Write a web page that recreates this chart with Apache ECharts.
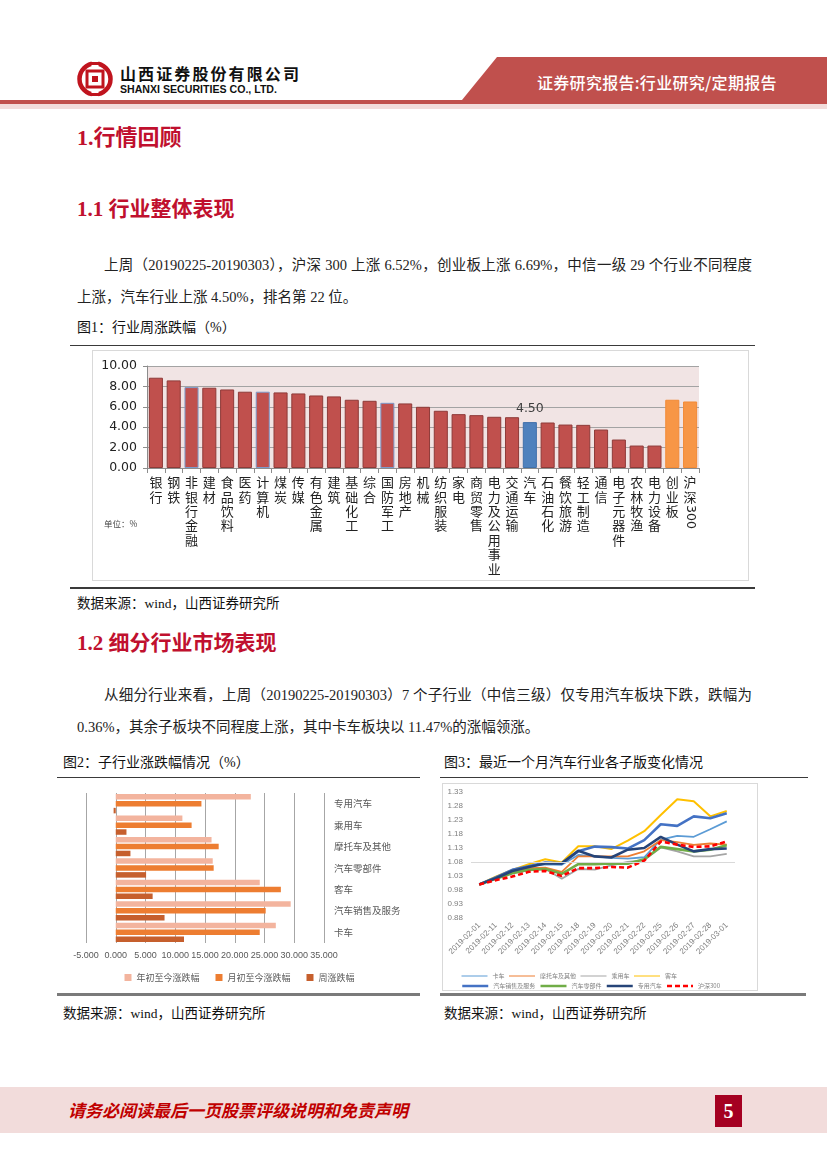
<!DOCTYPE html>
<html><head><meta charset="utf-8">
<script src="https://cdn.jsdelivr.net/npm/echarts@6/dist/echarts.min.js"></script>
<style>
body{margin:0;width:827px;height:1169px;position:relative;background:#fff;overflow:hidden;font-family:"Liberation Serif","Noto Sans CJK SC",serif;color:#1a1a1a;}
.a{position:absolute;white-space:nowrap;}
.h{font-weight:bold;color:#C0102E;}
.p{font-size:14.5px;line-height:20px;color:#222;}
.j{text-align:justify;text-align-last:justify;}
.cap{font-size:14px;line-height:20px;color:#111;}
.rule{position:absolute;background:#3a3a3a;}
</style></head>
<body>
<!-- header -->
<svg class="a" style="left:76px;top:59px" width="38" height="40" viewBox="0 0 38 40">
  <circle cx="19" cy="20" r="15.5" fill="none" stroke="#C0141E" stroke-width="4.5"/>
  <rect x="15.5" y="0" width="7" height="9" fill="#fff"/>
  <rect x="15.5" y="31" width="7" height="9" fill="#fff"/>
  <rect x="11" y="12" width="16" height="16" fill="none" stroke="#C0141E" stroke-width="3"/>
  <rect x="16" y="17" width="6" height="6" fill="#C0141E"/>
  <rect x="14" y="3" width="10" height="3" fill="#C0141E"/>
  <rect x="14" y="34" width="10" height="3" fill="#C0141E"/>
</svg>
<div class="a" style="left:120px;top:63px;font-size:16px;line-height:20px;font-weight:bold;letter-spacing:2.1px;font-family:'Noto Sans CJK SC';color:#111">山西证券股份有限公司</div>
<div class="a" style="left:120px;top:82px;font-size:10.6px;line-height:14px;font-weight:bold;font-family:'Liberation Sans';color:#111">SHANXI SECURITIES CO., LTD.</div>
<svg class="a" style="left:0;top:56px" width="827" height="54">
  <polygon points="497,1 827,1 827,44 462,44" fill="#C0504D"/>
  <rect x="0" y="44" width="827" height="4" fill="#C0504D"/>
  <rect x="0" y="48" width="827" height="5" fill="#F2DCDB"/>
</svg>
<div class="a" style="left:537px;top:72px;font-size:16px;line-height:20px;color:#fff;font-family:'Noto Sans CJK SC';font-weight:500;letter-spacing:0.3px">证券研究报告:行业研究/定期报告</div>

<!-- section 1 -->
<div class="a h" style="left:77px;top:125px;font-size:22px;line-height:26px">1.行情回顾</div>
<div class="a h" style="left:77px;top:196px;font-size:21px;line-height:26px">1.1 行业整体表现</div>
<div class="a p j" style="left:104px;top:255px;width:648px">上周（20190225-20190303），沪深 300 上涨 6.52%，创业板上涨 6.69%，中信一级 29 个行业不同程度</div>
<div class="a p" style="left:77px;top:287px">上涨，汽车行业上涨 4.50%，排名第 22 位。</div>
<div class="a cap" style="left:77px;top:318px">图1：行业周涨跌幅（%）</div>
<div class="rule" style="left:70px;top:345px;width:685px;height:1px"></div>
<div id="c1" class="a" style="left:92px;top:350px;width:655px;height:229px;border:1px solid #D9D9D9"></div>
<div class="rule" style="left:70px;top:587px;width:685px;height:1.5px"></div>
<div class="a cap" style="left:77px;top:594px;font-size:13.5px">数据来源：wind，山西证券研究所</div>

<!-- section 1.2 -->
<div class="a h" style="left:77px;top:630px;font-size:21px;line-height:26px">1.2 细分行业市场表现</div>
<div class="a p j" style="left:104px;top:685px;width:648px">从细分行业来看，上周（20190225-20190303）7 个子行业（中信三级）仅专用汽车板块下跌，跌幅为</div>
<div class="a p" style="left:77px;top:717px">0.36%，其余子板块不同程度上涨，其中卡车板块以 11.47%的涨幅领涨。</div>
<div class="a cap" style="left:63px;top:753px">图2：子行业涨跌幅情况（%）</div>
<div class="a cap" style="left:444px;top:753px">图3：最近一个月汽车行业各子版变化情况</div>
<div class="rule" style="left:57px;top:777px;width:363px;height:1px"></div>
<div class="rule" style="left:440px;top:777px;width:368px;height:1px"></div>
<div id="c2" class="a" style="left:57px;top:783px;width:365px;height:210px"></div>
<div id="c3" class="a" style="left:442px;top:783px;width:314px;height:206px;border:1px solid #D9D9D9"></div>
<div class="rule" style="left:57px;top:993px;width:363px;height:3px;background:#7a7a7a"></div>
<div class="rule" style="left:440px;top:993px;width:366px;height:3px;background:#7a7a7a"></div>
<div class="a cap" style="left:63px;top:1004px;font-size:13.5px">数据来源：wind，山西证券研究所</div>
<div class="a cap" style="left:444px;top:1004px;font-size:13.5px">数据来源：wind，山西证券研究所</div>

<!-- footer -->
<div class="a" style="left:0;top:1087px;width:827px;height:46px;background:#F2DCDB"></div>
<div class="a" style="left:68px;top:1099px;font-size:17px;line-height:22px;font-weight:bold;font-style:italic;color:#C00000;font-family:'Noto Sans CJK SC'">请务必阅读最后一页股票评级说明和免责声明</div>
<div class="a" style="left:715px;top:1095px;width:27px;height:32px;background:#A50021;color:#fff;font-size:20px;line-height:32px;text-align:center;font-weight:bold">5</div>

<script>
// ---------- Figure 1 data ----------
const industries = ['银行','钢铁','非银行金融','建材','食品饮料','医药','计算机','煤炭','传媒','有色金属','建筑','基础化工','综合','国防军工','房地产','机械','纺织服装','家电','商贸零售','电力及公用事业','交通运输','汽车','石油石化','餐饮旅游','轻工制造','通信','电子元器件','农林牧渔','电力设备','创业板','沪深300'];
const weeklyChange = [8.85,8.59,7.93,7.87,7.70,7.48,7.48,7.41,7.31,7.11,7.02,6.69,6.59,6.39,6.33,6.00,5.61,5.28,5.18,5.02,4.98,4.50,4.46,4.26,4.23,3.77,2.79,2.20,2.20,6.69,6.52];
const blueEdged = ['非银行金融','计算机','国防军工'];
const highlighted = '汽车';
const benchmarks = ['创业板','沪深300'];

// ---------- Figure 2 data ----------
const subIndustries = ['专用汽车','乘用车','摩托车及其他','汽车零部件','客车','汽车销售及服务','卡车'];
const ytdChange = [22.7,11.2,16.1,16.3,24.2,29.4,26.9];
const mtdChange = [14.4,12.75,17.3,16.46,27.75,25.2,24.2];
const weekChange = [-0.36,1.8,2.47,5.1,6.2,8.2,11.47];
const fig2Series = ['年初至今涨跌幅','月初至今涨跌幅','周涨跌幅'];

// ---------- Figure 3 data ----------
const dates = ['2019-02-01','2019-02-11','2019-02-12','2019-02-13','2019-02-14','2019-02-15','2019-02-18','2019-02-19','2019-02-20','2019-02-21','2019-02-22','2019-02-25','2019-02-26','2019-02-27','2019-02-28','2019-03-01'];
const truck    = [1.00,1.025,1.050,1.065,1.072,1.070,1.105,1.100,1.095,1.092,1.097,1.160,1.173,1.170,1.197,1.225];
const moto     = [1.00,1.022,1.042,1.058,1.060,1.045,1.100,1.100,1.100,1.100,1.118,1.158,1.151,1.141,1.146,1.142];
const passenger= [1.00,1.020,1.040,1.050,1.055,1.020,1.055,1.053,1.068,1.080,1.087,1.132,1.118,1.100,1.100,1.109];
const bus      = [1.00,1.028,1.052,1.072,1.090,1.078,1.136,1.136,1.126,1.156,1.190,1.248,1.304,1.297,1.243,1.262];
const sales    = [1.00,1.025,1.052,1.065,1.078,1.075,1.118,1.135,1.133,1.128,1.158,1.215,1.209,1.243,1.236,1.254];
const parts    = [1.00,1.020,1.040,1.052,1.055,1.038,1.072,1.072,1.075,1.074,1.090,1.134,1.126,1.118,1.124,1.140];
const special  = [1.00,1.022,1.048,1.062,1.075,1.075,1.120,1.100,1.096,1.124,1.130,1.170,1.142,1.118,1.126,1.128];
const hs300    = [1.00,1.015,1.028,1.045,1.048,1.030,1.058,1.058,1.062,1.060,1.085,1.153,1.142,1.134,1.136,1.153];

const CJK = '"Noto Sans CJK SC"';

// ---------- Chart 1 ----------
const c1 = echarts.init(document.getElementById('c1'));
c1.setOption({
  animation:false,
  textStyle:{fontFamily:CJK},
  grid:{left:54,right:49,top:15,bottom:112,show:true,backgroundColor:'#F1E4E4',borderWidth:0},
  xAxis:{type:'category',data:industries,
    axisLine:{lineStyle:{color:'#8C8C8C'}},
    axisTick:{show:true,length:5,lineStyle:{color:'#8C8C8C'}},
    axisLabel:{interval:0,margin:7,fontSize:13,lineHeight:14.4,color:'#222',fontFamily:CJK,
      formatter:v=> v==='沪深300' ? '沪\n深' : v.split('').join('\n')}},
  yAxis:{type:'value',min:0,max:10,interval:2,
    axisLine:{show:true,lineStyle:{color:'#8C8C8C'}},
    axisTick:{show:true,length:4,lineStyle:{color:'#8C8C8C'}},
    splitLine:{lineStyle:{color:'#A3A3A3'}},
    axisLabel:{formatter:v=>v.toFixed(2),fontSize:12.5,color:'#222',margin:10,fontFamily:'DejaVu Sans'}},
  series:[{type:'bar',barCategoryGap:'21%',
    data:industries.map((n,i)=>{
      let color='#C0504D', border='#8E3A38';
      if(n===highlighted){color='#4F81BD';border='#4070AA';}
      else if(benchmarks.includes(n)){color='#F79646';border='#F28A36';}
      else if(blueEdged.includes(n)){border='#7D9BCB';}
      const item={value:weeklyChange[i],itemStyle:{color:color,borderColor:border,borderWidth:1}};
      if(n===highlighted){item.label={show:true,position:'top',distance:7,formatter:p=>p.value.toFixed(2),fontSize:12.5,color:'#404040',fontFamily:'DejaVu Sans'};}
      return item;
    })}]
});
const px300 = c1.convertToPixel({xAxisIndex:0},'沪深300');
const pyZero = c1.convertToPixel({yAxisIndex:0},0);
c1.setOption({graphic:[
  {type:'text',x:px300,y:pyZero+37,rotation:-Math.PI/2,style:{text:'300',fontSize:12.5,fill:'#222',fontFamily:'DejaVu Sans',align:'left',verticalAlign:'middle'}},
  {type:'text',left:11,top:169,style:{text:'单位：%',fontSize:8.5,fill:'#444',fontFamily:CJK}}
]});

// ---------- Chart 2 ----------
const c2 = echarts.init(document.getElementById('c2'));
const fig2Colors = ['#F3B49E','#ED7D31','#C65F2D'];
const fig2Data = [ytdChange, mtdChange, weekChange];
c2.setOption({
  animation:false,
  textStyle:{fontFamily:CJK},
  grid:{left:29,right:98,top:10,bottom:50},
  legend:{top:185,left:'center',itemWidth:7,itemHeight:7,itemGap:16,icon:'rect',
    textStyle:{fontSize:9,color:'#595959',fontFamily:CJK},data:fig2Series},
  xAxis:{type:'value',min:-5,max:35,interval:5,
    axisLine:{show:false},axisTick:{show:false},
    splitLine:{lineStyle:{color:'#A6A6A6'}},
    axisLabel:{formatter:v=>v.toFixed(3),fontSize:9,color:'#595959',margin:8,showMinLabel:true,showMaxLabel:true,hideOverlap:false,fontFamily:'"Liberation Sans"'}},
  yAxis:{type:'category',data:subIndustries,inverse:true,position:'right',
    axisLine:{show:false},axisTick:{show:false},
    axisLabel:{fontSize:9.5,color:'#595959',margin:10,fontFamily:CJK}},
  series:fig2Series.map((n,k)=>({name:n,type:'bar',data:fig2Data[k],
    itemStyle:{color:fig2Colors[k]},barGap:'25%',barCategoryGap:'10%'}))
});

// ---------- Chart 3 ----------
const c3 = echarts.init(document.getElementById('c3'));
const fig3Names = ['卡车','摩托车及其他','乘用车','客车','汽车销售及服务','汽车零部件','专用汽车','沪深300'];
const fig3Data = [truck, moto, passenger, bus, sales, parts, special, hs300];
const fig3Colors = ['#5B9BD5','#ED7D31','#A5A5A5','#FFC000','#4472C4','#70AD47','#264478','#FF0000'];
const fig3Widths = [1.8,1.8,1.8,2.0,2.6,2.6,2.6,2.6];
const legendBase = {left:13,itemWidth:26,itemHeight:6,itemGap:4,itemStyle:{opacity:0},
  textStyle:{fontSize:6,color:'#7F7F7F',width:39.5,fontFamily:CJK}};
c3.setOption({
  animation:false,
  textStyle:{fontFamily:CJK},
  grid:{left:28,right:22,top:8,bottom:72},
  legend:[
    Object.assign({},legendBase,{top:184,data:fig3Names.slice(0,4),lineStyle:{width:1}}),
    Object.assign({},legendBase,{top:194,data:fig3Names.slice(4),lineStyle:{width:2.5}})
  ],
  xAxis:{type:'category',data:dates,boundaryGap:true,
    axisLine:{show:false},axisTick:{show:false},
    axisLabel:{interval:0,rotate:45,fontSize:8,color:'#7F7F7F',margin:6,fontFamily:'"Liberation Sans"'}},
  yAxis:{type:'value',min:0.88,max:1.33,interval:0.05,
    axisLine:{show:false},axisTick:{show:false},splitLine:{show:false},
    axisLabel:{formatter:v=>v.toFixed(2),fontSize:8,color:'#7F7F7F',margin:8,fontFamily:'"Liberation Sans"'}},
  series:fig3Names.map((n,k)=>{
    const s={name:n,type:'line',data:fig3Data[k],symbol:'none',
      itemStyle:{color:fig3Colors[k]},
      lineStyle:{color:fig3Colors[k],width:fig3Widths[k],type:n==='沪深300'?[5,3]:'solid'}};
    if(k===0){s.markLine={silent:true,symbol:['none','none'],label:{show:false},
      lineStyle:{color:'#D9D9D9',type:'solid',width:1},data:[{yAxis:1.08}]};}
    return s;
  })
});
</script>
</body></html>
